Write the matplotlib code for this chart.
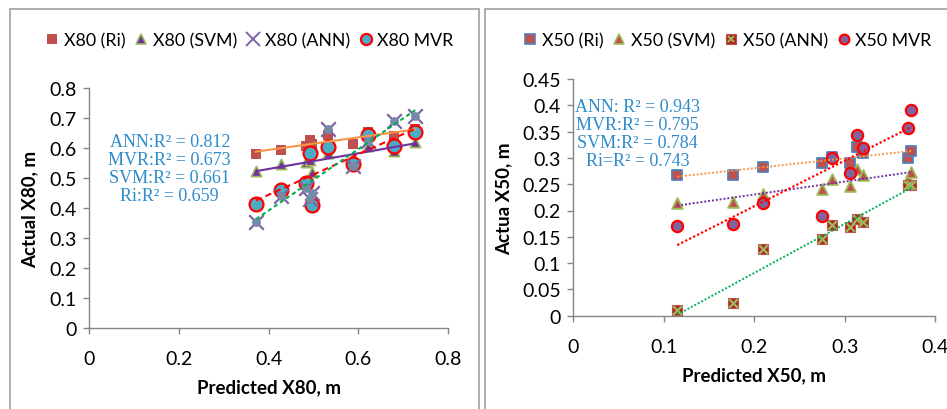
import matplotlib
matplotlib.use("Agg")
import matplotlib.pyplot as plt
import numpy as np
from matplotlib.patches import Rectangle
from matplotlib.lines import Line2D
from matplotlib.legend_handler import HandlerTuple

# ---------------- data ----------------
x80 = [0.372, 0.428, 0.483, 0.492, 0.497, 0.533, 0.589, 0.621, 0.680, 0.727]
ri80 = [0.579, 0.594, 0.607, 0.627, 0.615, 0.643, 0.613, 0.652, 0.639, 0.664]
svm80 = [0.524, 0.546, 0.552, 0.560, 0.521, 0.585, 0.565, 0.608, 0.590, 0.621]
ann80 = [0.354, 0.441, 0.466, 0.430, 0.450, 0.664, 0.541, 0.625, 0.691, 0.708]
mvr80 = [0.413, 0.461, 0.484, 0.582, 0.410, 0.602, 0.546, 0.643, 0.606, 0.652]
labels80 = ["X80 (Ri)", "X80 (SVM)", "X80 (ANN)", "X80 MVR"]
notes80 = ["ANN:R² = 0.812", "MVR:R² = 0.673", "SVM:R² = 0.661", "Ri:R² = 0.659"]
xticks80 = [0, 0.2, 0.4, 0.6, 0.8]
yticks80 = [0, 0.1, 0.2, 0.3, 0.4, 0.5, 0.6, 0.7, 0.8]

x50 = [0.115, 0.177, 0.210, 0.275, 0.286, 0.306, 0.314, 0.320, 0.370, 0.374]
ri50 = [0.267, 0.268, 0.283, 0.290, 0.302, 0.291, 0.320, 0.310, 0.300, 0.314]
svm50 = [0.214, 0.216, 0.231, 0.240, 0.260, 0.247, 0.279, 0.267, 0.260, 0.273]
ann50 = [0.010, 0.025, 0.127, 0.146, 0.173, 0.168, 0.184, 0.179, 0.248, 0.248]
mvr50 = [0.171, 0.174, 0.214, 0.189, 0.299, 0.271, 0.344, 0.318, 0.356, 0.392]
labels50 = ["X50 (Ri)", "X50 (SVM)", "X50 (ANN)", "X50 MVR"]
notes50 = ["ANN: R² = 0.943", "MVR:R² = 0.795", "SVM:R² = 0.784", "Ri=R² = 0.743"]
xticks50 = [0, 0.1, 0.2, 0.3, 0.4]
yticks50 = [0, 0.05, 0.1, 0.15, 0.2, 0.25, 0.3, 0.35, 0.4, 0.45]

SANS = ["Lato", "DejaVu Sans"]
SERIF = ["Liberation Serif", "DejaVu Serif"]
GRID = "#868686"
NOTE = "#2E8BCB"

plt.rcParams["font.family"] = SANS

fig = plt.figure(figsize=(9.47, 4.10), dpi=100)

# panel borders
fig.patches.append(Rectangle((10 / 947, -0.05), 469 / 947, 1.05 - 10 / 410, transform=fig.transFigure,
                             fill=False, edgecolor="#A0A0A0", lw=1.2))
fig.patches.append(Rectangle((485 / 947, -0.05), 470 / 947, 1.05 - 10 / 410, transform=fig.transFigure,
                             fill=False, edgecolor="#A0A0A0", lw=1.2))


def trend(ax, x, y, color, ls, lw):
    x = np.asarray(x); y = np.asarray(y)
    m, b = np.polyfit(x, y, 1)
    xs = np.array([x.min(), x.max()])
    ax.plot(xs, m * xs + b, color=color, ls=ls, lw=lw, zorder=4)


def fmt(v):
    return "%g" % v


def style(ax, xt, yt, xl, yl, ylpad):
    ax.set_xlim(xt[0], xt[-1]); ax.set_ylim(yt[0], yt[-1])
    ax.set_xticks(xt); ax.set_yticks(yt)
    ax.set_xticklabels([fmt(v) for v in xt])
    ax.set_yticklabels([fmt(v) for v in yt])
    for s in ["top", "right"]:
        ax.spines[s].set_visible(False)
    for s in ["left", "bottom"]:
        ax.spines[s].set_color(GRID); ax.spines[s].set_linewidth(1.0)
    ax.tick_params(axis="both", direction="out", length=4, width=1, color=GRID,
                   labelsize=14, pad=5)
    ax.tick_params(axis="x", pad=12)
    ax.set_xlabel(xl, fontsize=13.5, fontweight="bold", labelpad=8)
    ax.set_ylabel(yl, fontsize=13.5, fontweight="bold", labelpad=ylpad)


# ---------------- left panel ----------------
ax1 = fig.add_axes([89 / 947, 1 - 329 / 410, 359 / 947, 240 / 410])
ax1.set_facecolor("none")
ax1.scatter(x80, ri80, marker="s", s=60, color="#C0504D", lw=0, zorder=3)
ax1.scatter(x80, svm80, marker="^", s=55, facecolor="#7030A0", edgecolor="#9BBB59", lw=1.2, zorder=3)
ax1.scatter(x80, mvr80, marker="o", s=100, facecolor="#4BACC6", edgecolor="red", lw=1.6, zorder=3)
ax1.scatter(x80, ann80, marker="x", s=110, color="#8064A2", lw=1.6, zorder=3)
ax1.scatter(x80, ann80, marker="o", s=40, color="#7589A8", lw=0, zorder=3)
trend(ax1, x80, ri80, "#F79646", "-", 1.5)
trend(ax1, x80, svm80, "#7030A0", "-", 1.5)
trend(ax1, x80, mvr80, "red", (0, (3, 2)), 1.5)
trend(ax1, x80, ann80, "#00B050", (0, (2, 1.5)), 1.5)
style(ax1, xticks80, yticks80, "Predicted X80, m", "Actual X80, m", 8)
ax1.text(0.18, 0.532, "\n".join(notes80), transform=ax1.transData, ha="center", va="center",
         fontsize=13, color=NOTE, family=SERIF, linespacing=1.08)

h1 = [Line2D([], [], ls="", marker="s", ms=7, color="#C0504D", mew=0),
      Line2D([], [], ls="", marker="^", ms=6.5, mfc="#7030A0", mec="#9BBB59", mew=1.2),
      Line2D([], [], ls="", marker="x", ms=10, color="#8064A2", mew=1.4),
      Line2D([], [], ls="", marker="o", ms=8, mfc="#4BACC6", mec="red", mew=1.6)]
fig.legend(h1, labels80, loc="center", bbox_to_anchor=(249 / 947, 1 - 41 / 410), ncol=4,
           frameon=False, fontsize=12.8, handletextpad=0.2, columnspacing=0.45, handlelength=0.9)

# ---------------- right panel ----------------
ax2 = fig.add_axes([573.3 / 947, 1 - 316.7 / 410, 361.7 / 947, 236.7 / 410])
ax2.set_facecolor("none")
ax2.scatter(x50, ri50, marker="s", s=55, facecolor="#C0504D", edgecolor="#4F81BD", lw=1.3, zorder=3)
ax2.scatter(x50, svm50, marker="^", s=60, facecolor="#C0504D", edgecolor="#9BBB59", lw=1.3, zorder=3)
ax2.scatter(x50, ann50, marker="s", s=60, facecolor="#B22222", edgecolor="#C0504D", lw=0.8, zorder=3)
ax2.scatter(x50, ann50, marker="x", s=40, color="#9BBB59", lw=1.6, zorder=3)
ax2.scatter(x50, mvr50, marker="o", s=65, facecolor="#8064A2", edgecolor="red", lw=1.6, zorder=3)
trend(ax2, x50, ri50, "#F79646", (0, (1, 1)), 1.4)
trend(ax2, x50, svm50, "#7030A0", (0, (1, 1)), 1.4)
trend(ax2, x50, mvr50, "red", (0, (1, 1)), 1.6)
trend(ax2, x50, ann50, "#00B050", (0, (1, 1)), 1.4)
style(ax2, xticks50, yticks50, "Predicted X50, m", "Actua X50, m", 7)
ax2.text(0.071, 0.346, "\n".join(notes50), transform=ax2.transData, ha="center", va="center",
         fontsize=13, color=NOTE, family=SERIF, linespacing=1.08)

ann_h = (Line2D([], [], ls="", marker="s", ms=7, mfc="#B22222", mec="#C0504D", mew=0.8),
         Line2D([], [], ls="", marker="x", ms=5, color="#9BBB59", mew=1.4))
h2 = [Line2D([], [], ls="", marker="s", ms=7, mfc="#C0504D", mec="#4F81BD", mew=1.2),
      Line2D([], [], ls="", marker="^", ms=7, mfc="#C0504D", mec="#9BBB59", mew=1.2),
      ann_h,
      Line2D([], [], ls="", marker="o", ms=7, mfc="#8064A2", mec="red", mew=1.6)]
fig.legend(h2, labels50, loc="center", bbox_to_anchor=(727 / 947, 1 - 41 / 410), ncol=4,
           frameon=False, fontsize=12.8, handletextpad=0.2, columnspacing=0.45, handlelength=0.9,
           handler_map={tuple: HandlerTuple(ndivide=1, pad=0)})

fig.savefig("out.png", dpi=100)
